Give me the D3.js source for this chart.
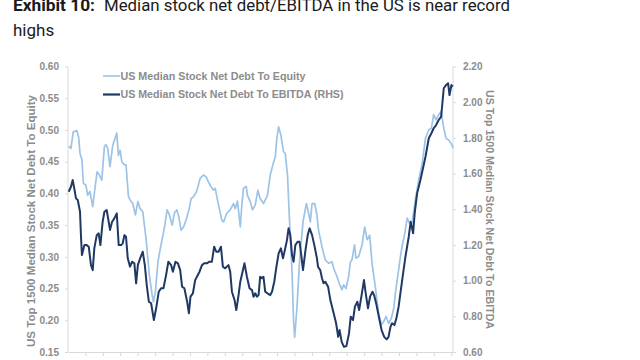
<!DOCTYPE html>
<html><head><meta charset="utf-8">
<script src="https://cdn.jsdelivr.net/npm/d3@7/dist/d3.min.js"></script>
<style>body{margin:0;background:#fff;} svg{display:block;}</style>
</head><body><svg id="c" width="640" height="360"></svg>
<script>
// ---- data ----
const equityYears = [1995.04,1995.17,1995.30,1995.50,1995.61,1995.69,1995.80,1995.88,1996.03,1996.13,1996.26,1996.42,1996.57,1996.67,1996.80,1996.94,1997.09,1997.18,1997.28,1997.41,1997.57,1997.80,1997.89,1997.99,1998.09,1998.24,1998.33,1998.47,1998.62,1998.72,1998.87,1999.01,1999.14,1999.29,1999.48,1999.67,1999.83,1999.90,2000.02,2000.16,2000.34,2000.53,2000.69,2000.82,2000.98,2001.11,2001.25,2001.36,2001.49,2001.63,2001.78,2001.94,2002.07,2002.21,2002.38,2002.59,2002.78,2002.93,2003.06,2003.20,2003.35,2003.45,2003.64,2003.83,2003.93,2004.12,2004.31,2004.50,2004.60,2004.73,2004.89,2004.98,2005.07,2005.23,2005.30,2005.46,2005.59,2005.75,2005.90,2006.03,2006.22,2006.45,2006.61,2006.76,2006.90,2006.99,2007.09,2007.22,2007.37,2007.47,2007.60,2007.72,2007.86,2007.95,2008.01,2008.14,2008.29,2008.49,2008.68,2008.81,2008.91,2009.01,2009.16,2009.29,2009.38,2009.58,2009.77,2009.96,2010.16,2010.25,2010.44,2010.57,2010.73,2010.82,2010.96,2011.11,2011.21,2011.30,2011.45,2011.53,2011.68,2011.88,2012.03,2012.17,2012.32,2012.45,2012.64,2012.83,2012.99,2013.12,2013.26,2013.41,2013.56,2013.70,2013.79,2013.95,2014.08,2014.21,2014.33,2014.47,2014.60,2014.75,2014.94,2015.13,2015.33,2015.52,2015.71,2015.86,2015.99,2016.13,2016.28,2016.42,2016.57,2016.70,2016.85,2017.05,2017.10];
const equityValues = [0.474,0.471,0.497,0.499,0.489,0.463,0.453,0.416,0.413,0.397,0.403,0.379,0.413,0.434,0.429,0.421,0.474,0.477,0.471,0.442,0.476,0.495,0.460,0.468,0.450,0.445,0.445,0.395,0.387,0.384,0.366,0.387,0.376,0.371,0.329,0.271,0.240,0.229,0.245,0.292,0.319,0.345,0.374,0.366,0.350,0.369,0.374,0.363,0.342,0.347,0.358,0.374,0.392,0.395,0.403,0.424,0.429,0.426,0.418,0.411,0.405,0.408,0.382,0.358,0.355,0.369,0.374,0.384,0.376,0.388,0.347,0.382,0.408,0.411,0.397,0.387,0.374,0.382,0.405,0.392,0.384,0.397,0.429,0.445,0.458,0.487,0.505,0.492,0.466,0.463,0.429,0.355,0.277,0.198,0.173,0.219,0.292,0.355,0.384,0.369,0.355,0.384,0.384,0.366,0.342,0.316,0.295,0.290,0.292,0.282,0.269,0.258,0.248,0.256,0.250,0.269,0.292,0.295,0.319,0.298,0.300,0.319,0.347,0.327,0.334,0.290,0.253,0.211,0.193,0.198,0.206,0.195,0.203,0.219,0.242,0.274,0.300,0.321,0.337,0.361,0.353,0.353,0.390,0.421,0.447,0.487,0.500,0.503,0.524,0.516,0.524,0.529,0.503,0.487,0.484,0.476,0.471];

const ebitdaYears = [1995.04,1995.17,1995.27,1995.36,1995.46,1995.56,1995.69,1995.75,1995.80,1995.94,1996.07,1996.19,1996.32,1996.42,1996.51,1996.65,1996.76,1996.86,1996.99,1997.09,1997.22,1997.32,1997.41,1997.53,1997.66,1997.80,1997.91,1998.05,1998.14,1998.24,1998.33,1998.43,1998.56,1998.68,1998.81,1998.91,1999.01,1999.14,1999.29,1999.41,1999.52,1999.64,1999.77,1999.93,2000.06,2000.21,2000.34,2000.48,2000.63,2000.76,2000.92,2001.02,2001.17,2001.31,2001.44,2001.55,2001.68,2001.84,2001.94,2002.03,2002.17,2002.30,2002.40,2002.55,2002.69,2002.82,2002.97,2003.12,2003.26,2003.39,2003.51,2003.64,2003.78,2003.89,2004.02,2004.21,2004.31,2004.41,2004.56,2004.66,2004.79,2004.89,2005.02,2005.13,2005.27,2005.42,2005.56,2005.65,2005.75,2005.84,2005.94,2006.03,2006.13,2006.22,2006.32,2006.45,2006.61,2006.71,2006.84,2006.95,2007.09,2007.22,2007.34,2007.47,2007.57,2007.66,2007.76,2007.86,2007.95,2008.05,2008.18,2008.29,2008.39,2008.49,2008.62,2008.76,2008.87,2009.01,2009.14,2009.29,2009.35,2009.48,2009.58,2009.67,2009.77,2009.93,2010.06,2010.25,2010.39,2010.51,2010.59,2010.71,2010.84,2010.98,2011.13,2011.23,2011.36,2011.47,2011.61,2011.71,2011.84,2011.99,2012.09,2012.22,2012.34,2012.48,2012.57,2012.71,2012.86,2013.00,2013.15,2013.29,2013.40,2013.51,2013.60,2013.74,2013.85,2013.98,2014.08,2014.21,2014.37,2014.56,2014.67,2014.81,2014.90,2015.04,2015.23,2015.52,2015.71,2015.86,2015.99,2016.13,2016.28,2016.42,2016.57,2016.70,2016.82,2016.90,2017.01,2017.09];
const ebitdaValues = [1.498,1.526,1.564,1.517,1.461,1.452,1.386,1.237,1.143,1.199,1.199,1.190,1.087,1.059,1.181,1.255,1.265,1.199,1.330,1.386,1.396,1.340,1.284,1.330,1.349,1.377,1.199,1.199,1.209,1.255,1.246,1.125,1.078,1.106,1.097,0.985,1.087,1.125,1.162,1.087,0.975,0.882,0.873,0.779,0.845,0.938,0.957,0.957,1.031,1.106,1.087,1.050,1.106,1.097,1.059,0.966,0.957,0.882,0.817,0.910,0.929,1.003,1.022,1.050,1.087,1.097,1.097,1.106,1.106,1.190,1.162,1.162,1.190,1.078,1.069,1.087,1.050,0.938,0.891,0.835,0.919,0.994,1.050,1.097,1.022,0.957,0.947,0.910,0.929,0.910,0.919,1.022,1.013,1.022,0.938,0.929,0.919,0.938,0.994,1.069,1.153,1.181,1.125,1.181,1.227,1.293,1.255,1.143,1.106,1.199,1.218,1.218,1.143,1.059,1.162,1.255,1.293,1.255,1.199,1.125,1.078,1.059,1.013,0.985,0.994,0.966,0.891,0.817,0.761,0.685,0.723,0.657,0.629,0.633,0.704,0.798,0.779,0.854,0.882,0.835,0.910,1.003,0.929,0.845,0.910,0.938,0.919,0.863,0.789,0.723,0.685,0.671,0.685,0.741,0.761,0.751,0.789,0.854,0.929,1.022,1.134,1.246,1.330,1.265,1.377,1.489,1.564,1.694,1.798,1.826,1.854,1.872,1.900,1.919,2.078,2.096,2.106,2.040,2.096,2.087,2.068];

const leftTicks = [0.15,0.20,0.25,0.30,0.35,0.40,0.45,0.50,0.55,0.60];
const rightTicks = [0.60,0.80,1.00,1.20,1.40,1.60,1.80,2.00,2.20];
const yearTicks = d3.range(1996, 2018);
const titleBold = "Exhibit 10:";
const titleRest = "Median stock net debt/EBITDA in the US is near record";
const titleLine2 = "highs";
const legendLabels = ["US Median Stock Net Debt To Equity", "US Median Stock Net Debt To EBITDA (RHS)"];
const leftTitle = "US Top 1500 Median Stock Net Debt To Equity";
const rightTitle = "US Top 1500 Median Stock Net Debt To EBITDA";

// ---- drawing ----
const svg = d3.select("#c");
const X0 = 68, X1 = 453, YT = 66.5, YB = 352;
const lightC = "#9dc3e6", darkC = "#1f3864", axisC = "#d9d9d9", txtC = "#8c8c8c";

const x = d3.scaleLinear().domain([1995, 2017.1]).range([X0, X1]);
const yL = d3.scaleLinear().domain([0.15, 0.60]).range([YB, YT]);
const yR = d3.scaleLinear().domain([0.60, 2.20]).range([YB, YT]);

// title
const titleFont = s => s.style("font-family", "Roboto, sans-serif").style("font-size", "17px").attr("fill", "#1a1a1a");
svg.append("text").attr("x", 13).attr("y", 11).attr("font-weight", "bold")
  .attr("textLength", 82).attr("lengthAdjust", "spacingAndGlyphs").call(titleFont).text(titleBold);
svg.append("text").attr("x", 104).attr("y", 11)
  .attr("textLength", 406).attr("lengthAdjust", "spacingAndGlyphs").call(titleFont).text(titleRest);
svg.append("text").attr("x", 13).attr("y", 36).call(titleFont).text(titleLine2);

const axFont = g => g.selectAll("text")
  .style("font-family", "'Liberation Sans', Arial, sans-serif")
  .style("font-size", "10px").style("font-weight", "bold").attr("fill", txtC);
const axStyle = g => { g.selectAll("path,line").attr("stroke", axisC); };

// left axis
svg.append("g").attr("transform", `translate(${X0},0)`)
  .call(d3.axisLeft(yL).tickValues(leftTicks).tickFormat(d3.format(".2f")).tickSize(3).tickSizeOuter(0).tickPadding(6))
  .call(axStyle).call(axFont).call(g => g.select(".domain").remove())
  .call(g => g.append("line").attr("x1", 0).attr("x2", 0).attr("y1", YT).attr("y2", YB).attr("stroke", axisC));

// right axis
svg.append("g").attr("transform", `translate(${X1},0)`)
  .call(d3.axisRight(yR).tickValues(rightTicks).tickFormat(d3.format(".2f")).tickSize(3).tickSizeOuter(0).tickPadding(7))
  .call(axStyle).call(axFont).call(g => g.select(".domain").remove())
  .call(g => g.append("line").attr("x1", 0).attr("x2", 0).attr("y1", YT).attr("y2", YB).attr("stroke", axisC));

// bottom axis: year ticks only (labels lie outside the reference frame)
svg.append("g").attr("transform", `translate(0,${YB})`)
  .call(d3.axisBottom(x).tickValues(yearTicks).tickFormat("").tickSize(4).tickSizeOuter(0))
  .call(axStyle);

// axis titles
svg.append("text").attr("transform", `translate(35,${(95 + 347) / 2}) rotate(-90)`)
  .attr("text-anchor", "middle").attr("textLength", 252).attr("lengthAdjust", "spacingAndGlyphs")
  .style("font-family", "'Liberation Sans', Arial, sans-serif").style("font-size", "11px").style("font-weight", "bold")
  .attr("fill", txtC).text(leftTitle);
svg.append("text").attr("transform", `translate(486,${(90 + 329) / 2}) rotate(90)`)
  .attr("text-anchor", "middle").attr("textLength", 239).attr("lengthAdjust", "spacingAndGlyphs")
  .style("font-family", "'Liberation Sans', Arial, sans-serif").style("font-size", "11px").style("font-weight", "bold")
  .attr("fill", txtC).text(rightTitle);

// lines
const eq = equityYears.map((d, i) => [d, equityValues[i]]);
const eb = ebitdaYears.map((d, i) => [d, ebitdaValues[i]]);
svg.append("path").datum(eq).attr("fill", "none").attr("stroke", lightC).attr("stroke-width", 1.7)
  .attr("stroke-linejoin", "round")
  .attr("d", d3.line().x(d => x(d[0])).y(d => yL(d[1])));
svg.append("path").datum(eb).attr("fill", "none").attr("stroke", darkC).attr("stroke-width", 2)
  .attr("stroke-linejoin", "round")
  .attr("d", d3.line().x(d => x(d[0])).y(d => yR(d[1])));

// legend
const legY = [76, 94.5];
const legC = [lightC, darkC];
const legW = [1.6, 2.2];
const legLen = [185, 223];
legendLabels.forEach((lab, i) => {
  svg.append("line").attr("x1", 103).attr("x2", 120).attr("y1", legY[i]).attr("y2", legY[i])
    .attr("stroke", legC[i]).attr("stroke-width", legW[i]);
  svg.append("text").attr("x", 120.5).attr("y", legY[i] + 3.8)
    .attr("textLength", legLen[i]).attr("lengthAdjust", "spacingAndGlyphs")
    .style("font-family", "'Liberation Sans', Arial, sans-serif").style("font-size", "10.5px").style("font-weight", "bold")
    .attr("fill", txtC).text(lab);
});
</script></body></html>
